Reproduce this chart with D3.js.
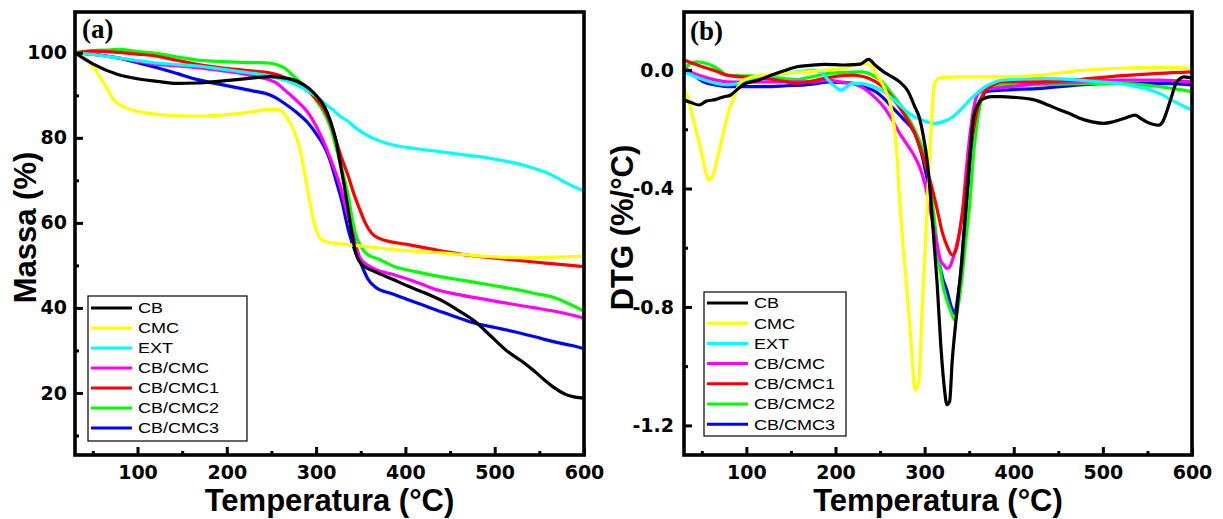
<!DOCTYPE html>
<html>
<head>
<meta charset="utf-8">
<script src="https://cdn.jsdelivr.net/npm/d3@7"></script>
<style>
  html, body { margin: 0; padding: 0; background: #fff; }
  svg { display: block; }
</style>
</head>
<body>
<svg id="chart" width="1223" height="519"></svg>
<script>
// ---------- DATA ----------
const seriesNames = ["CB", "CMC", "EXT", "CB/CMC", "CB/CMC1", "CB/CMC2", "CB/CMC3"];
const seriesColors = ["#000000", "#ffff00", "#00ffff", "#ff00ff", "#ff0000", "#00ff00", "#0000ff"];

const xTicksMajor = [100, 200, 300, 400, 500, 600];
const xTicksMinor = [50, 150, 250, 350, 450, 550];
const tgaTicksMajor = [20, 40, 60, 80, 100];
const tgaTicksMinor = [10, 30, 50, 70, 90];
const dtgTicksMajor = [0.0, -0.4, -0.8, -1.2];
const dtgTicksMinor = [-0.2, -0.6, -1.0];

// (a) TGA: [temperature °C, mass %]
const tgaCB = [[30,100],[50,97.4],[78,94.9],[100,93.9],[122,93.3],[144,92.8],[167,92.9],[190,93.3],[211,93.7],[230,94.1],[247,94.4],[264,94.1],[280,93.2],[291,91.8],[300,90],[309,87.5],[316,84],[322,79.6],[327,74],[331,69.4],[336,63],[340,57.6],[345,52.5],[350,50.5],[367,48.4],[385,46.8],[402,45.2],[422,43.5],[442,41.6],[460,39.3],[478,36.8],[495,33.5],[513,30],[530,27.5],[544,25.2],[556,23],[567,21.2],[580,19.6],[590,19],[600,18.8]];
const tgaCMC = [[30,100],[40,99],[47,97.6],[55,95.3],[60,93.7],[67,91.2],[73,89],[80,87.8],[91,86.7],[105,86],[122,85.5],[145,85.2],[167,85.1],[190,85.3],[211,85.7],[230,86.2],[247,86.7],[256,86.7],[262,86.2],[268,84.5],[273,82.7],[278,80],[282,77.3],[286,73],[289,69.4],[293,65],[296,61.6],[300,58.5],[304,56.5],[310,55.6],[318,55.3],[330,55],[344,54.7],[365,54.2],[389,53.7],[420,53.2],[450,52.8],[478,52.3],[500,52],[530,51.8],[560,51.9],[600,52.2]];
const tgaEXT = [[30,100],[50,99.6],[78,98.8],[100,98.2],[122,97.6],[145,97.2],[167,96.9],[190,96.3],[211,95.7],[235,95],[256,94.1],[275,92.8],[291,91],[300,89.8],[309,88.2],[318,86.7],[327,85.1],[335,84],[344,82.4],[355,80.9],[367,79.6],[378,78.8],[389,78.2],[410,77.5],[433,76.9],[455,76.3],[478,75.7],[500,75],[522,74.1],[540,73.1],[558,71.8],[570,70.6],[580,69.4],[590,68.4],[600,67.5]];
const tgaCBCMC = [[30,100],[50,99.6],[78,98.8],[100,98],[122,97.3],[145,96.9],[167,96.5],[190,95.9],[211,95.3],[230,94.5],[247,93.7],[257,92.7],[264,91.4],[278,88.8],[291,85.9],[300,82.8],[309,78.8],[318,74],[327,68.6],[334,63],[340,58.4],[345,54.5],[349,51.8],[358,50],[367,49],[385,47.9],[402,46.8],[418,45.6],[433,44.4],[455,43.3],[478,42.4],[500,41.6],[522,40.8],[545,40],[567,39.2],[585,38.4],[600,37.6]];
const tgaCBCMC1 = [[30,100],[50,100.4],[78,100.1],[100,99.7],[122,99.2],[145,98.2],[167,97.3],[190,96.6],[211,96.1],[230,95.7],[247,95.3],[260,94.6],[269,93.7],[280,92.6],[291,91],[300,89.2],[309,86.7],[316,83.5],[322,79.6],[329,75],[336,71],[342,67],[349,63.1],[355,60],[362,57.6],[370,56.4],[380,55.7],[400,55],[433,53.7],[455,52.9],[478,52.2],[510,51.5],[544,50.8],[570,50.3],[600,49.7]];
const tgaCBCMC2 = [[30,100],[50,100.5],[70,100.7],[78,100.8],[100,100.3],[122,99.8],[145,99],[167,98.3],[190,98],[211,97.8],[230,97.7],[247,97.6],[256,97.2],[264,96.5],[275,94.5],[283,93],[291,91.4],[300,88.8],[309,85.9],[316,82.5],[322,78],[329,72.5],[336,66.3],[340,61.5],[344,57.6],[350,54.5],[358,52.5],[370,51.5],[389,49.6],[410,48.6],[433,47.6],[455,46.8],[478,46],[500,45.2],[522,44.4],[545,43.4],[567,42.4],[585,40.8],[600,39.2]];
const tgaCBCMC3 = [[30,100],[50,99.7],[78,98.8],[100,97.7],[122,96.5],[145,95.1],[167,93.7],[190,92.7],[211,91.8],[230,91],[247,90.2],[256,89.3],[264,88.2],[278,86],[291,83.5],[300,81],[309,78],[316,74.5],[322,70.2],[329,65],[336,58.4],[340,55.5],[344,53.2],[349,51],[354,48.5],[358,46.8],[367,44.8],[385,43.3],[402,42],[418,40.8],[433,39.6],[455,38],[478,36.4],[500,35.4],[522,34.4],[545,33.2],[567,32],[585,31.2],[600,30.4]];

// (b) DTG: [temperature °C, DTG %/°C]
const dtgCB = [[30,-0.10],[38,-0.11],[47,-0.118],[55,-0.105],[65,-0.10],[75,-0.09],[82,-0.085],[90,-0.065],[96,-0.05],[105,-0.04],[113,-0.034],[122,-0.024],[131,-0.014],[145,0.0],[157,0.011],[172,0.016],[188,0.019],[200,0.018],[210,0.017],[220,0.018],[228,0.02],[234,0.032],[237,0.036],[245,0.015],[254,-0.006],[263,-0.022],[272,-0.04],[281,-0.07],[289,-0.124],[294,-0.16],[298,-0.214],[303,-0.31],[307,-0.44],[311,-0.6],[314,-0.72],[318,-0.923],[322,-1.07],[325,-1.13],[328,-1.12],[331,-0.98],[335,-0.85],[338,-0.755],[342,-0.64],[345,-0.52],[347,-0.44],[351,-0.28],[355,-0.158],[360,-0.115],[364,-0.10],[375,-0.09],[386,-0.09],[400,-0.092],[422,-0.10],[440,-0.12],[452,-0.135],[465,-0.15],[474,-0.163],[488,-0.175],[501,-0.18],[510,-0.176],[518,-0.169],[527,-0.16],[536,-0.152],[542,-0.162],[549,-0.175],[556,-0.183],[563,-0.186],[567,-0.175],[571,-0.146],[577,-0.09],[582,-0.045],[587,-0.028],[591,-0.023],[596,-0.025],[600,-0.028]];
const dtgCMC = [[30,-0.062],[34,-0.09],[38,-0.135],[44,-0.21],[49,-0.27],[54,-0.34],[58,-0.372],[62,-0.36],[67,-0.304],[72,-0.24],[76,-0.19],[80,-0.14],[85,-0.10],[90,-0.06],[96,-0.034],[110,-0.022],[122,-0.017],[145,-0.01],[166,-0.006],[190,0.0],[210,0.006],[228,0.023],[237,0.02],[245,-0.01],[254,-0.056],[259,-0.09],[263,-0.135],[268,-0.25],[272,-0.44],[276,-0.6],[279,-0.70],[283,-0.85],[286,-0.97],[289,-1.08],[292,-1.07],[294,-1.035],[296,-0.9],[298,-0.755],[300,-0.643],[303,-0.45],[305,-0.327],[308,-0.16],[311,-0.045],[315,-0.03],[320,-0.025],[342,-0.023],[386,-0.023],[430,-0.017],[474,-0.002],[518,0.006],[563,0.009],[600,0.006]];
const dtgEXT = [[30,-0.006],[47,-0.028],[62,-0.042],[78,-0.05],[100,-0.04],[115,-0.028],[131,-0.017],[157,-0.006],[175,0.0],[185,-0.01],[192,-0.034],[199,-0.055],[206,-0.068],[212,-0.058],[219,-0.045],[228,-0.045],[237,-0.05],[246,-0.06],[254,-0.073],[263,-0.094],[272,-0.118],[280,-0.14],[289,-0.158],[300,-0.172],[311,-0.18],[320,-0.175],[329,-0.163],[340,-0.135],[351,-0.10],[360,-0.075],[369,-0.054],[378,-0.042],[386,-0.034],[410,-0.03],[430,-0.028],[452,-0.03],[474,-0.034],[496,-0.04],[518,-0.045],[536,-0.055],[554,-0.068],[566,-0.082],[576,-0.10],[588,-0.118],[600,-0.135]];
const dtgCBCMC = [[30,0.006],[40,-0.01],[52,-0.023],[65,-0.033],[78,-0.04],[100,-0.041],[122,-0.04],[145,-0.04],[166,-0.04],[180,-0.037],[192,-0.034],[205,-0.04],[219,-0.045],[228,-0.055],[237,-0.073],[245,-0.095],[254,-0.124],[263,-0.165],[272,-0.214],[280,-0.25],[289,-0.293],[294,-0.325],[298,-0.36],[303,-0.42],[307,-0.485],[312,-0.56],[318,-0.643],[322,-0.66],[325,-0.67],[328,-0.665],[331,-0.643],[336,-0.59],[342,-0.496],[346,-0.36],[351,-0.214],[355,-0.13],[360,-0.079],[368,-0.066],[377,-0.062],[400,-0.055],[430,-0.045],[474,-0.04],[518,-0.034],[563,-0.034],[600,-0.04]];
const dtgCBCMC1 = [[30,0.034],[42,0.02],[56,0.006],[67,-0.005],[78,-0.017],[100,-0.024],[122,-0.028],[140,-0.037],[157,-0.045],[172,-0.038],[188,-0.028],[205,-0.02],[219,-0.017],[228,-0.02],[237,-0.028],[250,-0.05],[263,-0.09],[276,-0.145],[289,-0.214],[298,-0.29],[307,-0.383],[314,-0.47],[320,-0.55],[326,-0.6],[331,-0.625],[336,-0.6],[340,-0.53],[346,-0.4],[351,-0.27],[356,-0.18],[360,-0.124],[365,-0.085],[369,-0.068],[377,-0.05],[386,-0.04],[430,-0.04],[474,-0.032],[518,-0.02],[563,-0.011],[600,-0.006]];
const dtgCBCMC2 = [[30,0.0],[36,0.02],[43,0.028],[50,0.026],[60,0.017],[70,0.0],[78,-0.017],[100,-0.02],[122,-0.023],[140,-0.028],[157,-0.032],[175,-0.022],[192,-0.011],[210,-0.008],[228,-0.006],[245,-0.023],[254,-0.045],[263,-0.079],[272,-0.115],[281,-0.158],[290,-0.21],[298,-0.27],[304,-0.35],[310,-0.48],[316,-0.643],[320,-0.72],[325,-0.778],[330,-0.82],[334,-0.845],[338,-0.79],[342,-0.70],[346,-0.58],[351,-0.44],[355,-0.28],[360,-0.158],[364,-0.095],[369,-0.062],[386,-0.05],[430,-0.05],[474,-0.045],[518,-0.045],[563,-0.056],[600,-0.073]];
const dtgCBCMC3 = [[30,0.011],[40,-0.015],[52,-0.04],[65,-0.05],[78,-0.056],[100,-0.056],[122,-0.056],[145,-0.053],[166,-0.05],[180,-0.045],[192,-0.04],[205,-0.042],[219,-0.045],[232,-0.058],[245,-0.073],[254,-0.095],[263,-0.124],[276,-0.165],[289,-0.214],[298,-0.3],[307,-0.44],[312,-0.55],[316,-0.643],[320,-0.7],[325,-0.744],[330,-0.8],[334,-0.822],[337,-0.77],[340,-0.70],[344,-0.55],[349,-0.383],[355,-0.2],[360,-0.124],[365,-0.09],[369,-0.073],[386,-0.068],[430,-0.062],[474,-0.05],[518,-0.045],[563,-0.045],[600,-0.05]];

const tgaSeries = [tgaCB, tgaCMC, tgaEXT, tgaCBCMC, tgaCBCMC1, tgaCBCMC2, tgaCBCMC3];
const dtgSeries = [dtgCB, dtgCMC, dtgEXT, dtgCBCMC, dtgCBCMC1, dtgCBCMC2, dtgCBCMC3];
const drawOrder = [6, 5, 3, 4, 2, 1, 0];

// ---------- DRAW ----------
const svg = d3.select("#chart");
svg.append("rect").attr("width", 1223).attr("height", 519).attr("fill", "#fff");

const tickFont = "'DejaVu Sans', sans-serif";
const titleFont = "'Liberation Sans', Arial, sans-serif";

function panel(opts) {
  const { left, right, top, bottom, yDomain, data, yMajor, yMinor, yFmt, yPad,
          yTitle, yTitleX, letter, letterX, letterY, legend, id } = opts;
  const x = d3.scaleLinear().domain([30, 600]).range([left, right]);
  const y = d3.scaleLinear().domain(yDomain).range([bottom, top]);
  const g = svg.append("g");

  g.append("clipPath").attr("id", "clip" + id)
    .append("rect").attr("x", left).attr("y", top)
    .attr("width", right - left).attr("height", bottom - top);

  const line = d3.line().x(d => x(d[0])).y(d => y(d[1])).curve(d3.curveMonotoneX);
  const lines = g.append("g").attr("clip-path", `url(#clip${id})`);
  drawOrder.forEach(i => {
    lines.append("path").datum(data[i])
      .attr("d", line).attr("fill", "none")
      .attr("stroke", seriesColors[i]).attr("stroke-width", 3.2)
      .attr("stroke-linejoin", "round").attr("stroke-linecap", "round");
  });

  // axes (inward ticks)
  const styleAxis = sel => {
    sel.select(".domain").remove();
    sel.selectAll(".tick line").attr("stroke", "#000").attr("stroke-width", 3);
    sel.selectAll(".tick text").attr("fill", "#000")
      .style("font-family", tickFont).style("font-weight", "bold").style("font-size", "19px");
  };
  g.append("g").attr("transform", `translate(0,${bottom})`)
    .call(d3.axisBottom(x).tickValues(xTicksMajor).tickSizeInner(-8).tickSizeOuter(0).tickPadding(11).tickFormat(d3.format("d")))
    .call(styleAxis);
  g.append("g").attr("transform", `translate(0,${bottom})`)
    .call(d3.axisBottom(x).tickValues(xTicksMinor).tickSizeInner(-4).tickSizeOuter(0).tickFormat(""))
    .call(styleAxis);
  g.append("g").attr("transform", `translate(${left},0)`)
    .call(d3.axisLeft(y).tickValues(yMajor).tickSizeInner(-8).tickSizeOuter(0).tickPadding(yPad).tickFormat(yFmt))
    .call(styleAxis);
  g.append("g").attr("transform", `translate(${left},0)`)
    .call(d3.axisLeft(y).tickValues(yMinor).tickSizeInner(-4).tickSizeOuter(0).tickFormat(""))
    .call(styleAxis);

  // frame
  g.append("rect").attr("x", left).attr("y", top)
    .attr("width", right - left).attr("height", bottom - top)
    .attr("fill", "none").attr("stroke", "#000").attr("stroke-width", 3.6);

  // titles
  g.append("text").attr("x", (left + right) / 2).attr("y", 511)
    .attr("text-anchor", "middle")
    .style("font-family", titleFont).style("font-weight", "bold").style("font-size", "31px")
    .text("Temperatura (°C)");
  g.append("text").attr("transform", `translate(${yTitleX},${(top + bottom) / 2 - 6}) rotate(-90)`)
    .attr("text-anchor", "middle")
    .style("font-family", titleFont).style("font-weight", "bold").style("font-size", "31px")
    .text(yTitle);
  g.append("text").attr("x", letterX).attr("y", letterY)
    .style("font-family", "'Liberation Serif', 'Times New Roman', serif").style("font-weight", "bold").style("font-size", "27px")
    .text(letter);

  // legend
  const lg = g.append("g");
  lg.append("rect").attr("x", legend.x).attr("y", legend.y)
    .attr("width", legend.w).attr("height", legend.h)
    .attr("fill", "#fff").attr("stroke", "#000").attr("stroke-width", 1.2);
  seriesNames.forEach((name, i) => {
    const yy = legend.y + legend.first + i * legend.step;
    lg.append("line").attr("x1", legend.x + 3).attr("x2", legend.x + 44)
      .attr("y1", yy).attr("y2", yy)
      .attr("stroke", seriesColors[i]).attr("stroke-width", 3);
    lg.append("text")
      .attr("transform", `translate(${legend.x + 50},${yy + 5.4}) scale(1.2,1)`)
      .style("font-family", titleFont).style("font-size", "15px")
      .text(name);
  });
}

panel({
  id: "a", left: 75, right: 584, top: 12, bottom: 455,
  yDomain: [5.4, 109.6], data: tgaSeries,
  yMajor: tgaTicksMajor, yMinor: tgaTicksMinor, yFmt: d3.format("d"), yPad: 8,
  yTitle: "Massa (%)", yTitleX: 36,
  letter: "(a)", letterX: 82, letterY: 38,
  legend: { x: 88, y: 296, w: 159, h: 145, first: 12, step: 20 }
});

panel({
  id: "b", left: 684, right: 1192, top: 12, bottom: 455,
  yDomain: [-1.30, 0.196], data: dtgSeries,
  yMajor: dtgTicksMajor, yMinor: dtgTicksMinor, yFmt: d => d.toFixed(1), yPad: 10,
  yTitle: "DTG (%/°C)", yTitleX: 633,
  letter: "(b)", letterX: 690, letterY: 40,
  legend: { x: 704, y: 292, w: 142, h: 144, first: 11, step: 20.2 }
});
</script>
</body>
</html>
